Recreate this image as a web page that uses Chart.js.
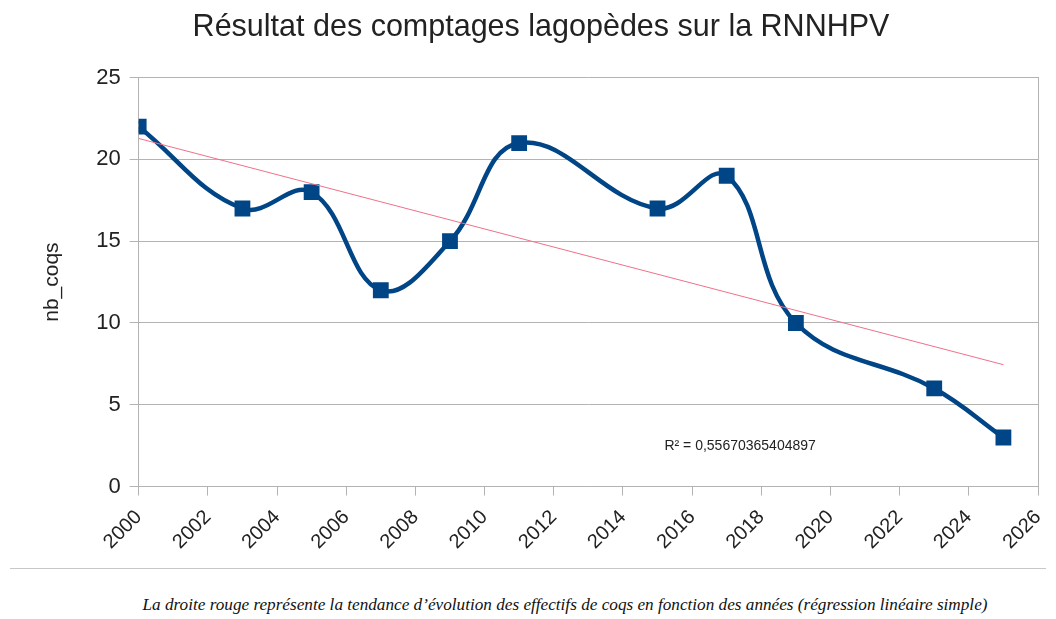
<!DOCTYPE html>
<html>
<head>
<meta charset="utf-8">
<script src="https://cdn.jsdelivr.net/npm/chart.js@4"></script>
<style>
	body { margin: 0; background: #fff; width: 1056px; height: 619px; overflow: hidden; }
	#wrap { position: absolute; left: 0; top: 0; width: 1056px; height: 566px; }
	#rule { position: absolute; left: 10px; top: 568px; width: 1036px; border-top: 1px solid #c8c8c8; }
	#caption { position: absolute; left: 0; top: 595px; width: 1130px; text-align: center;
		font: italic 17.2px "Liberation Serif", serif; color: #111; }
</style>
</head>
<body>
<div id="wrap"><canvas id="counts"></canvas></div>
<div id="rule"></div>
<div id="caption">La droite rouge représente la tendance d’évolution des effectifs de coqs en fonction des années (régression linéaire simple)</div>
<script>
const years = [2000, 2003, 2005, 2007, 2009, 2011, 2015, 2017, 2019, 2023, 2025];
const coqs = [22, 17, 18, 12, 15, 21, 17, 19, 10, 6, 3];
const trendYears = [2000, 2025];
const trendValues = [21.28, 7.45];
const r2Label = "R² = 0,55670365404897";
const yTicks = [0, 5, 10, 15, 20, 25];

const r2Text = {
	id: "r2Text",
	afterDatasetsDraw(chart) {
		const { ctx, scales } = chart;
		ctx.save();
		ctx.font = "14px 'Liberation Sans', Arial, sans-serif";
		ctx.fillStyle = "#222";
		ctx.textAlign = "left";
		ctx.textBaseline = "middle";
		ctx.fillText(r2Label, scales.x.getPixelForValue(2015.2), scales.y.getPixelForValue(2.5));
		ctx.restore();
	},
};

const countsElem = document.getElementById("counts");

const counts = new Chart(countsElem, {
	type: "line",
	data: {
		datasets: [
			{
				data: trendYears.map((x, i) => ({ x: x, y: trendValues[i] })),
				borderColor: "#f0708a",
				borderWidth: 1,
				pointRadius: 0,
				tension: 0,
			},
			{
				data: years.map((x, i) => ({ x: x, y: coqs[i] })),
				borderColor: "#004586",
				backgroundColor: "#004586",
				borderWidth: 4.5,
				pointStyle: "rect",
				pointRadius: 8,
				pointHoverRadius: 8,
				tension: 0.4,
			},
		],
	},
	options: {
		responsive: true,
		maintainAspectRatio: false,
		animation: false,
		layout: {
			padding: { left: 36, right: 10, top: 5, bottom: 2 },
		},
		plugins: {
			legend: false,
			tooltip: { enabled: false },
			title: {
				display: true,
				text: "Résultat des comptages lagopèdes sur la RNNHPV",
				color: "#222",
				font: { family: "'Liberation Sans', Arial, sans-serif", size: 30.5, weight: "normal" },
				padding: { top: 4, bottom: 32 },
			},
		},
		scales: {
			x: {
				type: "linear",
				min: 2000,
				max: 2026,
				afterFit: (axis) => {
					axis.paddingRight = 18;
				},
				grid: {
					display: true,
					drawOnChartArea: false,
					drawTicks: true,
					tickLength: 9,
					color: "#b3b3b3",
				},
				border: { color: "#b3b3b3" },
				ticks: {
					stepSize: 2,
					minRotation: 45,
					maxRotation: 45,
					color: "#222",
					padding: 10,
					font: { family: "'Liberation Sans', Arial, sans-serif", size: 20 },
					callback: (v) => String(v),
				},
			},
			y: {
				min: 0,
				max: 25,
				afterBuildTicks: (axis) => {
					axis.ticks = yTicks.map((v) => ({ value: v }));
				},
				grid: {
					color: "#b3b3b3",
					tickLength: 9,
				},
				border: { color: "#b3b3b3" },
				ticks: {
					color: "#222",
					padding: 9,
					font: { family: "'Liberation Sans', Arial, sans-serif", size: 22 },
				},
				title: {
					display: true,
					text: "nb_coqs",
					color: "#222",
					padding: { bottom: 22 },
					font: { family: "'Liberation Sans', Arial, sans-serif", size: 21 },
				},
			},
			y2: {
				position: "right",
				display: true,
				grid: { display: false, drawTicks: false },
				border: { color: "#b3b3b3" },
				ticks: { display: false },
			},
		},
	},
	plugins: [r2Text],
});
</script>
</body>
</html>
